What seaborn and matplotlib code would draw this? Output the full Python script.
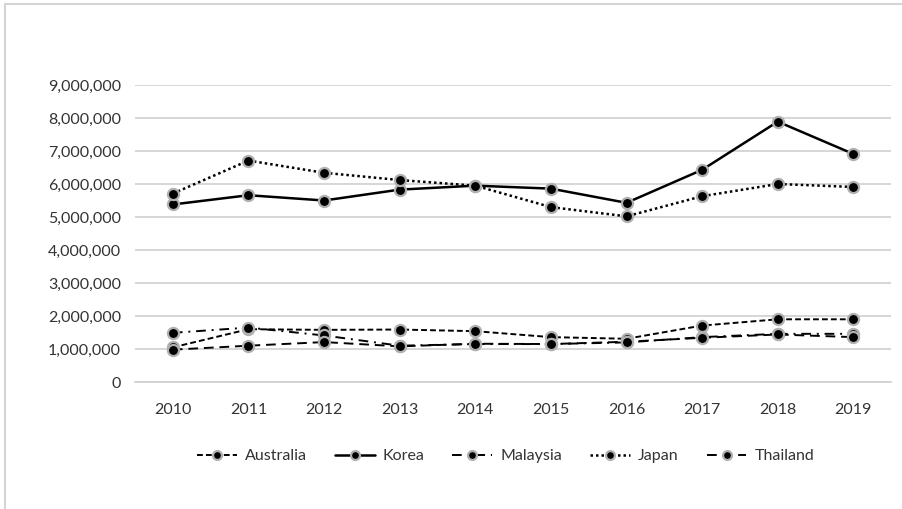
import matplotlib
matplotlib.use("Agg")
import matplotlib.pyplot as plt
from matplotlib.patches import Rectangle
from matplotlib.ticker import FuncFormatter
import seaborn as sns

years = [2010, 2011, 2012, 2013, 2014, 2015, 2016, 2017, 2018, 2019]

australia = [1050000, 1600000, 1580000, 1590000, 1540000, 1360000, 1310000, 1710000, 1900000, 1900000]
korea = [5380000, 5660000, 5500000, 5830000, 5950000, 5860000, 5430000, 6430000, 7890000, 6910000]
malaysia = [1490000, 1650000, 1410000, 1100000, 1150000, 1150000, 1200000, 1360000, 1460000, 1460000]
japan = [5710000, 6710000, 6340000, 6120000, 5950000, 5300000, 5020000, 5630000, 6000000, 5910000]
thailand = [980000, 1100000, 1210000, 1080000, 1160000, 1150000, 1220000, 1340000, 1440000, 1360000]

series = [
    ("Australia", australia, (0, (3, 1.6)), 1.4),
    ("Korea", korea, "-", 1.8),
    ("Malaysia", malaysia, (0, (5, 3, 1, 3)), 1.4),
    ("Japan", japan, (0, (1, 1.2)), 1.8),
    ("Thailand", thailand, (0, (5, 3)), 1.4),
]

sns.set_theme(style="white")
plt.rcParams["font.family"] = ["Lato", "DejaVu Sans"]

fig = plt.figure(figsize=(9.02, 5.09), dpi=100)
ax = fig.add_axes([0.1497, 0.2495, 0.8383, 0.5835])

for name, vals, ls, lw in series:
    sns.lineplot(x=years, y=vals, ax=ax, color="black", linestyle=ls,
                 linewidth=lw, marker="o", markersize=8,
                 markerfacecolor="black", markeredgecolor="#b0b0b0",
                 markeredgewidth=1.6, label=name, zorder=3)

ax.set_xlim(2009.5, 2019.5)
ax.set_ylim(0, 9000000)
ax.set_xticks(years)
ax.set_xticklabels([str(y) for y in years])
ax.set_yticks(range(0, 9000001, 1000000))
ax.yaxis.set_major_formatter(FuncFormatter(lambda v, p: f"{v:,.0f}"))
ax.grid(axis="y", color="#d0d0d0", linewidth=1.2)
ax.set_axisbelow(True)
for side in ["left", "right", "top"]:
    ax.spines[side].set_visible(False)
ax.spines["bottom"].set_color("#d0d0d0")
ax.spines["bottom"].set_linewidth(1.2)
ax.tick_params(axis="both", length=0, labelsize=11.5, colors="#333333")
ax.tick_params(axis="x", pad=15)
ax.tick_params(axis="y", pad=10)
ax.set_xlabel("")
ax.set_ylabel("")

ax.legend(loc="center", bbox_to_anchor=(0.49, -0.25), ncol=5, frameon=False,
          fontsize=11.5, handlelength=2.5, columnspacing=1.75,
          handletextpad=0.5, markerscale=0.8)
for t in ax.get_legend().get_texts():
    t.set_color("#333333")

fig.patches.append(Rectangle((4.5 / 902, -0.1), 1.2, (509 - 4.5) / 509 + 0.1,
                             transform=fig.transFigure, fill=False,
                             edgecolor="#d4d4d4", linewidth=1.5))

fig.savefig("out.png", dpi=100)
